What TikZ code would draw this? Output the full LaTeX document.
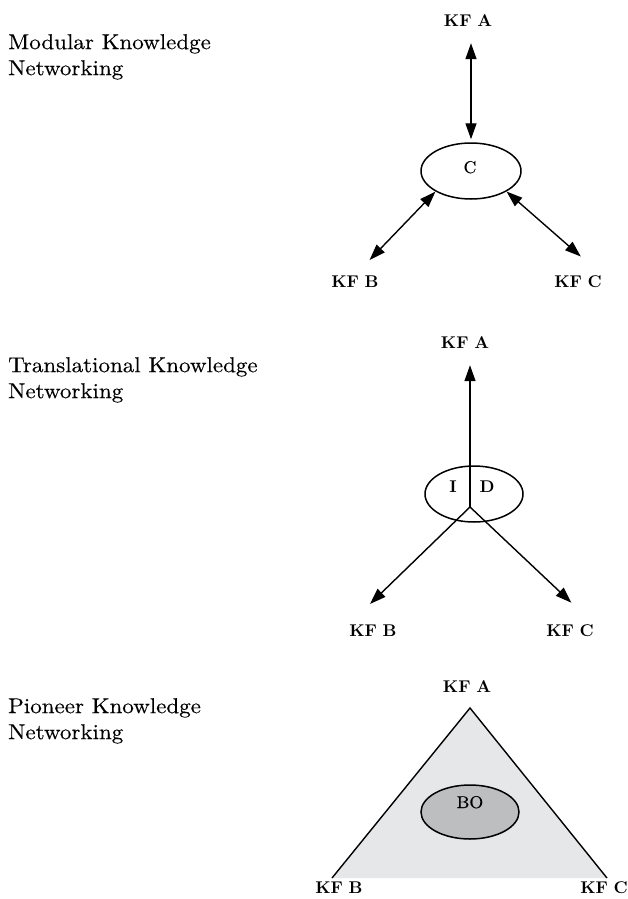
\documentclass[tikz,border=0pt]{standalone}
\usepackage{fontspec}
\newfontfamily\titlefont{lmroman10-regular.otf}[FakeStretch=1.07,FakeBold=0.3]
\newfontfamily\labelfont{lmroman10-bold.otf}
\newfontfamily\innerfont{lmroman10-regular.otf}[FakeStretch=1.05,FakeBold=0.4]
\usetikzlibrary{arrows.meta,shapes.geometric}
\definecolor{trigray}{HTML}{E6E7E8}
\definecolor{ovalgray}{HTML}{BDBEC0}
\begin{document}
\begin{tikzpicture}[x=1pt,y=-1pt,
  title/.style={anchor=north west, align=left, inner sep=0pt, font=\titlefont\fontsize{21.5}{26}\selectfont},
  kf/.style={anchor=base, inner sep=0pt, font=\labelfont\fontsize{17}{19}\selectfont},
  inner/.style={anchor=base, inner sep=0pt, font=\innerfont\fontsize{17}{19}\selectfont},
  oval/.style={ellipse, draw, line width=1.5pt, inner sep=0pt},
  link/.style={line width=1.4pt},
  tip/.style={-{Triangle[length=16pt,width=11pt]}},
  both/.style={{Triangle[length=16pt,width=11pt]}-{Triangle[length=16pt,width=11pt]}}
]
\useasboundingbox (0,0) rectangle (628,899);

% ---------- Modular ----------
\node[title] (t1) at (8,34) {Modular Knowledge\\Networking};
\node[kf] (kfa1) at (468,27) {KF\,\,A};
\node[kf] (kfb1) at (355,287) {KF\,\,B};
\node[kf] (kfc1) at (578,287) {KF\,\,C};
\node[oval, minimum width=100pt, minimum height=56pt] (c1) at (471,171) {};
\node[inner] (ctext) at (470,173) {C};
\draw[link,both,shorten <=16pt,shorten >=3pt] (kfa1.south -| c1.north) -- (c1.north);
\draw[link,both,shorten >=21pt] (c1.210) -- (kfb1.north);
\draw[link,both,shorten >=28pt] (c1.330) -- (kfc1.north east);

% ---------- Translational ----------
\node[title] (t2) at (8,357) {Translational Knowledge\\Networking};
\node[kf] (kfa2) at (465,348) {KF\,\,A};
\node[kf] (kfb2) at (373,636) {KF\,\,B};
\node[kf] (kfc2) at (570,636) {KF\,\,C};
\node[oval, minimum width=98pt, minimum height=56pt] (id) at (474,494) {};
\node[kf] (itext) at (453,492) {I};
\node[kf] (dtext) at (487,492) {D};
\coordinate (j) at (470,507);
\draw[link,tip,shorten >=17pt] (j) -- (j |- kfa2.south);
\draw[link,tip,shorten >=29pt] (j) -- (kfb2.north west);
\draw[link,tip,shorten >=31pt] (j) -- (kfc2.north east);

% ---------- Pioneer ----------
\node[title] (t3) at (8,698) {Pioneer Knowledge\\Networking};
\node[kf] (kfa3) at (467,692) {KF\,\,A};
\node[kf] (kfb3) at (339,893) {KF\,\,B};
\node[kf] (kfc3) at (604,893) {KF\,\,C};
\coordinate (ta) at (470,708);
\coordinate (tb) at (332,878);
\coordinate (tc) at (607,878);
\fill[trigray] (ta) -- (tc) -- (tb) -- cycle;
\draw[link, line join=miter] (tb) -- (ta) -- (tc);
\node[oval, fill=ovalgray, minimum width=98pt, minimum height=54pt] (bo) at (470,812) {};
\node[inner] (botext) at (470,808) {BO};
\end{tikzpicture}
\end{document}
